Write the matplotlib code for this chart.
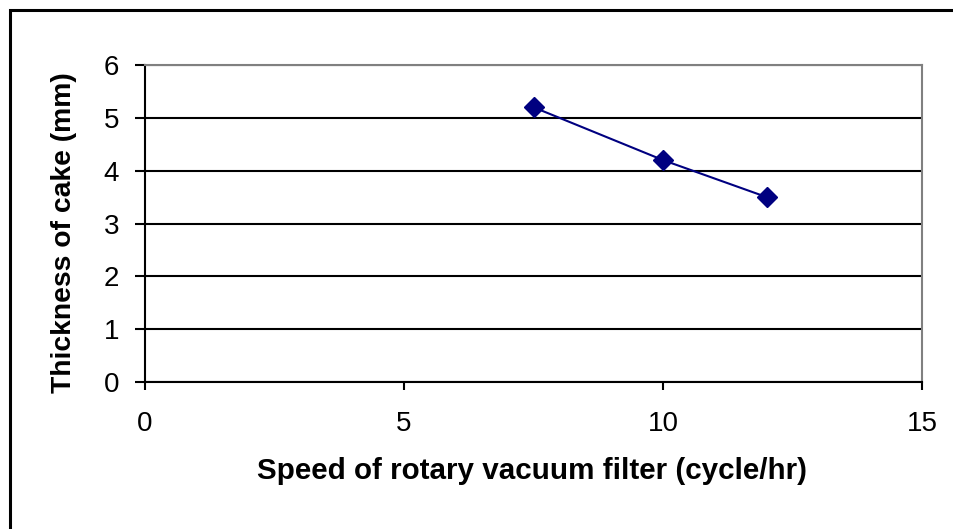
import matplotlib
matplotlib.use("Agg")
import matplotlib.pyplot as plt
from matplotlib.patches import Rectangle

speed = [7.5, 10, 12]
thickness = [5.2, 4.2, 3.5]
xticks = [0, 5, 10, 15]
yticks = [0, 1, 2, 3, 4, 5, 6]
xlabel = 'Speed of rotary vacuum filter (cycle/hr)'
ylabel = 'Thickness of cake (mm)'

plt.rcParams['font.family'] = ['Liberation Sans', 'DejaVu Sans']

W, H = 954, 529
fig = plt.figure(figsize=(W/100, H/100), dpi=100)
fig.patches.append(Rectangle((10/W, -0.1), 2, (H-10)/H + 0.1, transform=fig.transFigure,
                             fill=False, edgecolor='black', linewidth=2.2))

ax = fig.add_axes([145/W, (H-382)/H, (922-145)/W, (382-65)/H])
ax.set_xlim(0, 15)
ax.set_ylim(0, 6)
ax.set_xticks(xticks)
ax.set_yticks(yticks)
ax.grid(axis='y', color='black', linewidth=1.5)
ax.set_axisbelow(True)
for s in ['top', 'right']:
    ax.spines[s].set_color('#808080')
    ax.spines[s].set_linewidth(1.5)
for s in ['left', 'bottom']:
    ax.spines[s].set_color('black')
    ax.spines[s].set_linewidth(1.5)
ax.tick_params(axis='both', direction='out', width=1.5, labelsize=20, colors='black')
ax.tick_params(axis='x', length=6, pad=15)
ax.tick_params(axis='y', length=7.5, pad=11)

ax.plot(speed, thickness, color='#000080', linewidth=1.5, marker='D', markersize=10,
        markerfacecolor='#000080', markeredgecolor='#000080', zorder=5)

fig.text(532/W, 1 - 479/H, xlabel, fontsize=21.3, fontweight='bold',
         ha='center', va='baseline')
fig.text(64/W, 1 - 233/H, ylabel, fontsize=20.3, fontweight='bold',
         ha='center', va='center', rotation=90)

fig.savefig('out.png', dpi=100)
